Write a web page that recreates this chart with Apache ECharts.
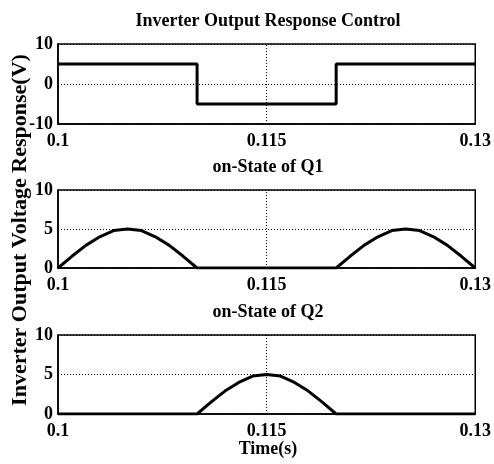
<!DOCTYPE html>
<html><head><meta charset="utf-8">
<script src="https://cdn.jsdelivr.net/npm/echarts@6/dist/echarts.min.js"></script>
<style>html,body{margin:0;padding:0;background:#fff}#c{width:494px;height:464px}</style>
</head><body><div id="c"></div>
<script>
// ---- data ----
var mainTitle = 'Inverter Output Response Control';
var panelTitles = ['on-State of Q1', 'on-State of Q2'];
var xName = 'Time(s)';
var yName = 'Inverter Output Voltage Response(V)';
var xTickLabels = [0.1, 0.115, 0.13];

var outT = [0.1, 0.11, 0.11, 0.12, 0.12, 0.13];
var outV = [5, 5, -5, -5, 5, 5];

var q1T = [0.1, 0.101, 0.102, 0.103, 0.104, 0.105, 0.106, 0.107, 0.108, 0.109, 0.11, 0.12, 0.121, 0.122, 0.123, 0.124, 0.125, 0.126, 0.127, 0.128, 0.129, 0.13];
var q1V = [0, 1.5, 2.9, 4.0, 4.8, 5.0, 4.8, 4.0, 2.9, 1.5, 0, 0, 1.5, 2.9, 4.0, 4.8, 5.0, 4.8, 4.0, 2.9, 1.5, 0];

var q2T = [0.1, 0.11, 0.111, 0.112, 0.113, 0.114, 0.115, 0.116, 0.117, 0.118, 0.119, 0.12, 0.13];
var q2V = [0, 0, 1.5, 2.9, 4.0, 4.8, 5.0, 4.8, 4.0, 2.9, 1.5, 0, 0];

var yRanges = [[-10, 10, 10], [0, 10, 5], [0, 10, 5]];

// ---- chart ----
var FONT = '"Liberation Serif","Times New Roman",serif';
var grids = [
  {left: 58, top: 44, width: 420, height: 80},
  {left: 58, top: 190, width: 420, height: 78},
  {left: 58, top: 335, width: 420, height: 79}
];
function pairs(t, v) { return t.map(function (x, i) { return [x, v[i]]; }); }
var seriesData = [pairs(outT, outV), pairs(q1T, q1V), pairs(q2T, q2V)];

var option = {
  animation: false,
  backgroundColor: '#fff',
  grid: grids.map(function (g) { return Object.assign({show: true, borderColor: '#000', borderWidth: 1.5, backgroundColor: 'transparent'}, g); }),
  xAxis: grids.map(function (g, i) {
    return {
      type: 'value', gridIndex: i, min: 0.1, max: 0.13, interval: 0.005,
      axisLine: {show: true, onZero: false, lineStyle: {color: '#000', width: 1.5}},
      axisTick: {show: false},
      splitLine: {show: false},
      axisLabel: {
        show: true, margin: 8, color: '#000', fontFamily: FONT, fontWeight: 'bold', fontSize: 18,
        showMinLabel: true, showMaxLabel: true, hideOverlap: false,
        formatter: function (v) {
          for (var k = 0; k < xTickLabels.length; k++) {
            if (Math.abs(v - xTickLabels[k]) < 1e-9) return String(xTickLabels[k]);
          }
          return '';
        }
      }
    };
  }),
  yAxis: yRanges.map(function (r, i) {
    return {
      type: 'value', gridIndex: i, min: r[0], max: r[1], interval: r[2],
      axisLine: {show: true, lineStyle: {color: '#000', width: 1.5}},
      axisTick: {show: false},
      splitLine: {show: true, lineStyle: {color: '#000', type: [1, 2], width: 1}},
      axisLabel: {margin: 5, color: '#000', fontFamily: FONT, fontWeight: 'bold', fontSize: 18}
    };
  }),
  series: seriesData.map(function (d, i) {
    return {
      type: 'line', xAxisIndex: i, yAxisIndex: i, data: d, showSymbol: false, symbol: 'none',
      lineStyle: {color: '#000', width: 3}, z: 3,
      markLine: {
        silent: true, symbol: 'none', label: {show: false}, precision: 6,
        lineStyle: {color: '#000', type: [1, 2], width: 1},
        data: [{xAxis: xTickLabels[1]}]
      }
    };
  }),
  graphic: [
    {type: 'text', x: 268, y: 21.5, style: {text: mainTitle, font: 'bold 18px ' + FONT, fill: '#000', align: 'center', verticalAlign: 'middle'}},
    {type: 'text', x: 268, y: 167, style: {text: panelTitles[0], font: 'bold 18px ' + FONT, fill: '#000', align: 'center', verticalAlign: 'middle'}},
    {type: 'text', x: 268, y: 312, style: {text: panelTitles[1], font: 'bold 18px ' + FONT, fill: '#000', align: 'center', verticalAlign: 'middle'}},
    {type: 'text', x: 268, y: 449, style: {text: xName, font: 'bold 18px ' + FONT, fill: '#000', align: 'center', verticalAlign: 'middle'}},
    {type: 'text', x: 20, y: 230, rotation: Math.PI / 2, style: {text: yName, font: 'bold 22px ' + FONT, fill: '#000', align: 'center', verticalAlign: 'middle'}}
  ]
};
var chart = echarts.init(document.getElementById('c'), null, {renderer: 'canvas'});
chart.setOption(option);
</script></body></html>
